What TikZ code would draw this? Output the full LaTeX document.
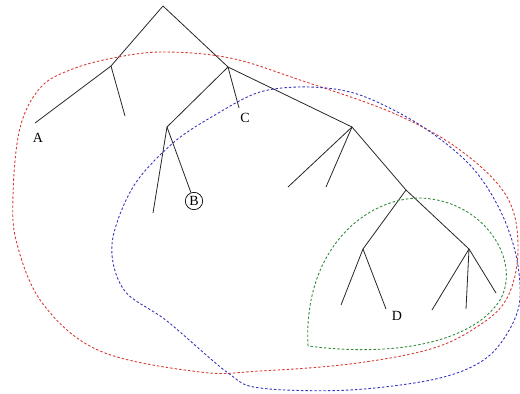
\documentclass[tikz,border=0pt]{standalone}
\usepackage{fontspec}
\setmainfont{Liberation Serif}
\definecolor{hred}{RGB}{215,60,55}
\definecolor{hblue}{RGB}{55,55,190}
\definecolor{hgreen}{RGB}{50,140,60}
\begin{document}
\begin{tikzpicture}[x=1pt,y=-1pt,
  edge/.style={draw=black!85,line width=0.8pt},
  hull/.style={line width=0.9pt,dash pattern=on 2.5pt off 2pt},
  lab/.style={font=\fontsize{14}{16}\selectfont,inner sep=0pt}]
\useasboundingbox (0,0) rectangle (520,394);
% tree points
\coordinate (r) at (163,6);
\coordinate (n1) at (111,66);
\coordinate (n2) at (228,67);
\coordinate (n3) at (167,127);
\coordinate (n4) at (352,127);
\coordinate (n5) at (406,190);
\coordinate (n6) at (363,249);
\coordinate (n7) at (469,249);
\coordinate (la) at (35,123);
\coordinate (l1) at (125,116);
\coordinate (lc) at (239,108);
\coordinate (l3) at (153,213);
\coordinate (l4) at (288,187);
\coordinate (l5) at (326,187);
\coordinate (l6) at (341,305);
\coordinate (ld) at (386,309);
\coordinate (l7) at (432,310);
\coordinate (l8) at (466,309);
\coordinate (l9) at (496,293);
% labels
\node[lab] (A) at (38,138) {A};
\node[lab] (C) at (245,118) {C};
\node[lab] (D) at (397,316) {D};
\node[lab,draw,circle,inner sep=1.5pt,line width=0.7pt] (B) at (194,201) {B};
% edges
\draw[edge] (r) -- (n1);
\draw[edge] (r) -- (n2);
\draw[edge] (n1) -- (la);
\draw[edge] (n1) -- (l1);
\draw[edge] (n2) -- (n3);
\draw[edge] (n2) -- (lc);
\draw[edge] (n2) -- (n4);
\draw[edge] (n3) -- (l3);
\draw[edge] (n3) -- (B);
\draw[edge] (n4) -- (l4);
\draw[edge] (n4) -- (l5);
\draw[edge] (n4) -- (n5);
\draw[edge] (n5) -- (n6);
\draw[edge] (n5) -- (n7);
\draw[edge] (n6) -- (l6);
\draw[edge] (n6) -- (ld);
\draw[edge] (n7) -- (l7);
\draw[edge] (n7) -- (l8);
\draw[edge] (n7) -- (l9);
% red hull
\draw[hull,hred] plot[smooth cycle,tension=0.6] coordinates {
 (113,58) (163,52) (230,58) (300,80) (393,113) (460,150) (507,197)
 (518,250) (506,300) (472,330) (427,350) (350,364) (260,371) (200,372)
 (100,351) (43,304) (17,244) (13,195) (20,128) (40,88) (70,70)};
% blue hull
\draw[hull,hblue] plot[smooth cycle,tension=0.55] coordinates {
 (133,187) (173,143) (215,115) (260,92) (310,87) (360,95) (420,125)
 (470,165) (500,210) (517,260) (518,310) (490,355) (440,378) (350,390)
 (260,388) (228,373) (167,321) (124,290) (112,244)};
% green hull
\draw[hull,hgreen] (308,346) .. controls (303,250) and (365,198) .. (420,198)
  .. controls (485,200) and (522,262) .. (500,300)
  .. controls (475,340) and (400,358) .. (308,346) -- cycle;
\end{tikzpicture}
\end{document}
